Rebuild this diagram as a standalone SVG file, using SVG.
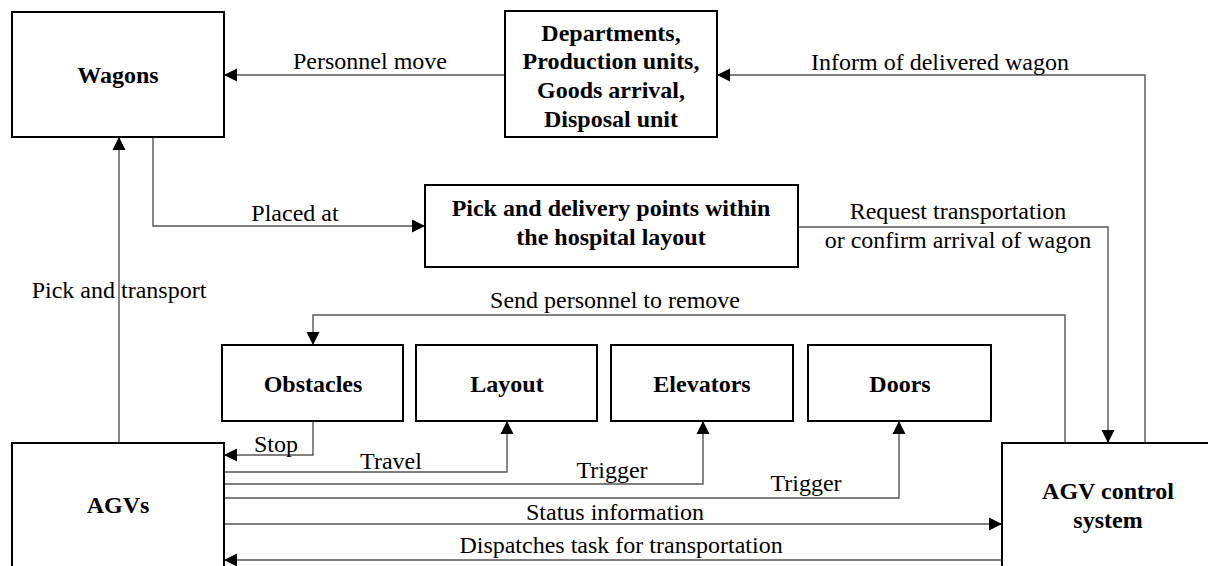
<svg xmlns="http://www.w3.org/2000/svg" width="1208" height="566" viewBox="0 0 1208 566">
<style>
.box{fill:#fff;stroke:#000;stroke-width:2}
.bt{font-family:"Liberation Serif","Times New Roman",serif;font-size:24px;font-weight:bold;text-anchor:middle;fill:#000}
.lb{font-family:"Liberation Serif","Times New Roman",serif;font-size:24px;text-anchor:middle;fill:#000}
.c{fill:none;stroke:#555;stroke-width:1.4;marker-end:url(#ah)}
</style>
<defs>
<marker id="ah" markerUnits="userSpaceOnUse" markerWidth="14" markerHeight="14" refX="13" refY="6.5" orient="auto" viewBox="0 0 14 13">
<path d="M0,0 L13,6.5 L0,13 z" fill="#000"/>
</marker>
</defs>
<rect width="1208" height="566" fill="#fff"/>
<g id="connectors">
<path class="c" d="M505,75 L224,75"/>
<path class="c" d="M1145,443 L1145,75 L717,75"/>
<path class="c" d="M153,137 L153,226 L425,226"/>
<path class="c" d="M119,443 L119,137"/>
<path class="c" d="M798,227 L1108,227 L1108,443"/>
<path class="c" d="M1065,443 L1065,315 L313,315 L313,345"/>
<path class="c" d="M313,421 L313,455 L224,455"/>
<path class="c" d="M224,472 L507,472 L507,421"/>
<path class="c" d="M224,484 L703,484 L703,421"/>
<path class="c" d="M224,498 L899,498 L899,421"/>
<path class="c" d="M224,524 L1002,524"/>
<path class="c" d="M1002,560 L224,560"/>
<text class="lb" x="370" y="69">Personnel move</text>
<text class="lb" x="940" y="70">Inform of delivered wagon</text>
<text class="lb" x="295" y="221">Placed at</text>
<text class="lb" x="119" y="298">Pick and transport</text>
<text class="lb" x="958" y="219">Request transportation</text>
<text class="lb" x="958" y="248">or confirm arrival of wagon</text>
<text class="lb" x="615" y="308">Send personnel to remove</text>
<text class="lb" x="276" y="452">Stop</text>
<text class="lb" x="391" y="469">Travel</text>
<text class="lb" x="612" y="478">Trigger</text>
<text class="lb" x="806" y="491">Trigger</text>
<text class="lb" x="615" y="520">Status information</text>
<text class="lb" x="621" y="553">Dispatches task for transportation</text>
</g>
<g id="wagons">
<rect class="box" x="12" y="12" width="212" height="125"/>
<text class="bt" x="118" y="83">Wagons</text>
</g>
<g id="departments">
<rect class="box" x="505" y="11" width="212" height="126"/>
<text class="bt" x="611" y="41">Departments,</text>
<text class="bt" x="611" y="69">Production units,</text>
<text class="bt" x="611" y="98">Goods arrival,</text>
<text class="bt" x="611" y="127">Disposal unit</text>
</g>
<g id="pickpoints">
<rect class="box" x="425" y="185" width="373" height="82"/>
<text class="bt" x="611" y="216">Pick and delivery points within</text>
<text class="bt" x="611" y="245">the hospital layout</text>
</g>
<g id="obstacles">
<rect class="box" x="222" y="345" width="181" height="76"/>
<text class="bt" x="313" y="392">Obstacles</text>
</g>
<g id="layout">
<rect class="box" x="416" y="345" width="181" height="76"/>
<text class="bt" x="507" y="392">Layout</text>
</g>
<g id="elevators">
<rect class="box" x="611" y="345" width="182" height="76"/>
<text class="bt" x="702" y="392">Elevators</text>
</g>
<g id="doors">
<rect class="box" x="808" y="345" width="183" height="76"/>
<text class="bt" x="900" y="392">Doors</text>
</g>
<g id="agvs">
<rect class="box" x="12" y="443" width="212" height="135"/>
<text class="bt" x="118" y="513">AGVs</text>
</g>
<g id="agvcontrol">
<rect class="box" x="1002" y="443" width="212" height="135"/>
<text class="bt" x="1108" y="499">AGV control</text>
<text class="bt" x="1108" y="528">system</text>
</g>
</svg>
